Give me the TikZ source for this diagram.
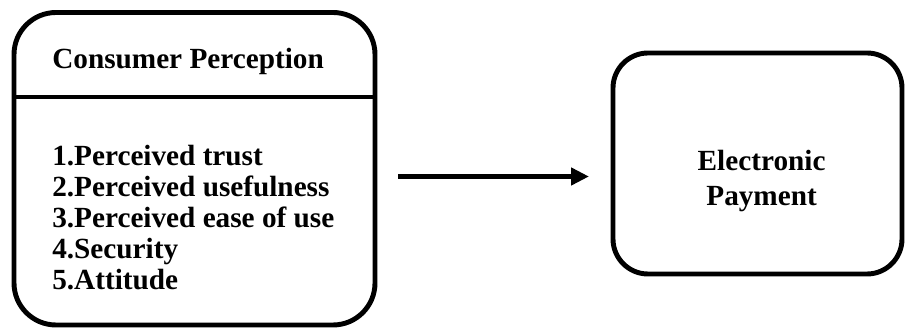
\documentclass[tikz,border=0pt]{standalone}
\usepackage{fontspec}
\setmainfont{Liberation Serif}
\usetikzlibrary{arrows.meta,positioning}

\begin{document}
\begin{tikzpicture}[>=Latex,
        box/.style={draw, line width=3.5pt, inner sep=0pt},
        lbl/.style={inner sep=0pt, font=\fontsize{20.8}{22.05}\selectfont\bfseries}]
    \useasboundingbox (0,0) rectangle (22.65,8.225);

    % left box with header and list
    \node[box, rounded corners=1.05cm, minimum width=9.025cm, minimum height=7.8125cm] (cpbox) at (4.8625,4.00625) {};
    \coordinate (divl) at (0.35,5.8);
    \coordinate (divr) at (9.375,5.8);
    \draw[line width=3.5pt] (divl) -- (divr);
    \node[lbl, anchor=base west] (cptitle) at (1.3,6.5) {Consumer Perception};
    \foreach \i/\txt in {1/Perceived trust,2/Perceived usefulness,3/Perceived ease of use,4/Security,5/Attitude}{
        \node[lbl, anchor=base west] (item\i) at (1.3,{4.075-(\i-1)*0.775}) {\i.\txt};
    }

    % right box
    \node[box, rounded corners=0.875cm, minimum width=7.225cm, minimum height=5.525cm] (epbox) at (18.9375,4.1375) {};
    \node[lbl, anchor=base] (eptop) at (19.04,3.957) {Electronic};
    \node[lbl, anchor=base] (epbot) at (19.04,3.075) {Payment};

    % arrow
    \coordinate (arrs) at (9.95,3.8125);
    \coordinate (arre) at (14.725,3.8125);
    \draw[line width=3.5pt, -{Triangle[length=0.45cm,width=0.425cm]}] (arrs) -- (arre);
\end{tikzpicture}
\end{document}
